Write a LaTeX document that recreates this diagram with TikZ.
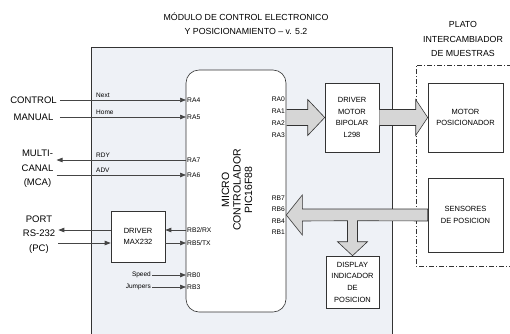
\documentclass[tikz,border=0pt]{standalone}
\usepackage{fontspec}
\setmainfont{Liberation Sans}
\usepackage{xcolor}
\usetikzlibrary{arrows.meta, positioning, calc}
\definecolor{modbg}{HTML}{EEF1F6}
\definecolor{edge}{HTML}{333333}
\definecolor{busfill}{HTML}{D6D6D6}
\definecolor{wire}{HTML}{454545}

\begin{document}
\begin{tikzpicture}[
    x=1pt, y=-1pt,
    block/.style={
        rectangle, draw=edge, fill=white, line width=0.6pt,
        align=center, inner sep=1pt,
        font=\fontsize{7.5}{11.7}\selectfont,
    },
    mcubox/.style={
        rectangle, rounded corners=13pt, draw=edge, fill=white,
        line width=0.6pt, minimum width=100pt, minimum height=242pt,
    },
    pinl/.style={anchor=west, inner sep=1pt, font=\fontsize{6.7}{8}\selectfont},
    pinr/.style={anchor=east, inner sep=1pt, font=\fontsize{6.7}{8}\selectfont},
    lbl/.style={inner sep=1pt, font=\fontsize{6.5}{8}\selectfont},
    ext/.style={align=center, inner xsep=3pt, inner ysep=1pt,
        font=\fontsize{9.5}{14.5}\selectfont},
    head/.style={align=center, inner sep=1pt, font=\fontsize{8.8}{14.5}\selectfont},
    sig/.style={draw=wire, line width=0.7pt, -{Triangle[length=6pt, width=4.5pt]}},
    bus/.style={draw=edge, fill=busfill, line width=0.6pt, line join=miter},
]
\useasboundingbox (0,0) rectangle (510,333);

% ── Module frame and sample changer frame ──────────────────────────────────
\fill[modbg] (91,47) rectangle (392,334);
\draw[edge, line width=0.6pt] (91,334) -- (91,47) -- (392,47) -- (392,334);
\draw[edge, line width=0.6pt, dash pattern=on 5pt off 2pt on 1pt off 2pt]
    (512,65) -| (416,266) -- (512,266);

\node[head] (title) at (246,23.5)
    {MÓDULO DE CONTROL ELECTRONICO\\Y POSICIONAMIENTO -- v. 5.2};
\node[head] (plato) at (463,39) {PLATO\\INTERCAMBIADOR\\DE MUESTRAS};

% ── Blocks ──────────────────────────────────────────────────────────────────
\def\mcuW{186}
\def\mcuE{286}

\node[mcubox] (mcu) at (236,191) {};
\node[rotate=90, align=center, inner sep=0pt,
      font=\fontsize{10.5}{11.5}\selectfont] (mcutxt) at (237,190)
    {MICRO\\CONTROLADOR\\PIC16F88};

\node[block, minimum width=54pt, minimum height=69pt] (drvmot) at (352,117.5)
    {DRIVER\\MOTOR\\BIPOLAR\\L298};
\node[block, minimum width=75pt, minimum height=69pt] (motor) at (465.5,117.5)
    {MOTOR\\POSICIONADOR};
\node[block, minimum width=75pt, minimum height=74pt] (sens) at (465.5,215)
    {SENSORES\\DE POSICION};
\node[block, minimum width=53pt, minimum height=52pt] (disp) at (352.5,282)
    {DISPLAY\\INDICADOR\\DE\\POSICION};
\node[block, minimum width=54pt, minimum height=51pt] (drv232) at (138,236.5)
    {DRIVER\\MAX232};

% ── External signals ───────────────────────────────────────────────────────
\node[ext] (manual) at (33.5,108.5) {CONTROL\\[2pt]MANUAL};
\node[ext] (mca) at (37.5,169) {MULTI-\\CANAL\\(MCA)};
\node[ext] (pc) at (39,234.5) {PORT\\RS-232\\(PC)};

% ── Pins ────────────────────────────────────────────────────────────────────
\node[pinl] (ra4) at (\mcuW,100) {RA4};
\node[pinl] (ra5) at (\mcuW,117) {RA5};
\node[pinl] (ra7) at (\mcuW,160) {RA7};
\node[pinl] (ra6) at (\mcuW,175) {RA6};
\node[pinl] (rb2) at (\mcuW,230) {RB2/RX};
\node[pinl] (rb5) at (\mcuW,243) {RB5/TX};
\node[pinl] (rb0) at (\mcuW,275) {RB0};
\node[pinl] (rb3) at (\mcuW,287) {RB3};

\node[pinr] (ra0) at (\mcuE,99)  {RA0};
\node[pinr] (ra1) at (\mcuE,111) {RA1};
\node[pinr] (ra2) at (\mcuE,123) {RA2};
\node[pinr] (ra3) at (\mcuE,135) {RA3};
\node[pinr] (rb7) at (\mcuE,198) {RB7};
\node[pinr] (rb6) at (\mcuE,209) {RB6};
\node[pinr] (rb4) at (\mcuE,221) {RB4};
\node[pinr] (rb1) at (\mcuE,232) {RB1};

% ── Signal lines ────────────────────────────────────────────────────────────
\draw[sig] (manual.east |- ra4) -- (ra4.west);
\draw[sig] (manual.east |- ra5) -- (ra5.west);
\draw[sig] (ra7.west) -- (mca.east |- ra7);
\draw[sig] (mca.east |- ra6) -- (ra6.west);

\node[lbl, anchor=south west] (lnext) at (95,99)  {Next};
\node[lbl, anchor=south west] (lhome) at (95,116) {Home};
\node[lbl, anchor=south west] (lrdy)  at (95,159) {RDY};
\node[lbl, anchor=south west] (ladv)  at (95,174) {ADV};

\draw[sig] (rb2.west) -- (drv232.east |- rb2);
\draw[sig] (drv232.west |- rb2) -- (pc.east |- rb2);
\draw[sig] (pc.east |- rb5) -- (drv232.west |- rb5);
\draw[sig] (drv232.east |- rb5) -- (rb5.west);

\node[lbl, anchor=east] (lspeed) at (152,275) {Speed};
\node[lbl, anchor=east] (ljump)  at (152,287) {Jumpers};
\draw[sig] (lspeed.east) -- (rb0.west);
\draw[sig] (ljump.east) -- (rb3.west);

% ── Bus arrows ──────────────────────────────────────────────────────────────
\draw[bus] ($(mcu.east |- drvmot.west)+(0.3,-8)$) -- ($(drvmot.west)+(-17,-8)$)
    -- ++(0,-10) -- (drvmot.west) -- ++(-17,18) -- ++(0,-10)
    -- ($(mcu.east |- drvmot.west)+(0.3,8)$);
\draw[bus] ($(drvmot.east)+(0,-8)$) -- ($(motor.west)+(-12,-8)$)
    -- ++(0,-10) -- (motor.west) -- ++(-12,18) -- ++(0,-10)
    -- ($(drvmot.east)+(0,8)$);
\draw[bus] (mcu.east |- sens.west) -- ++(16,-20) -- ++(0,14)
    -- ($(sens.west)+(0,-6)$) -- ++(0,12)
    -- ($(disp.north)+(5,-35)$) -- ++(0,21) -- ++(10,0) -- (disp.north)
    -- ++(-15,-14) -- ++(10,0) -- ++(0,-21)
    -- ($(mcu.east |- sens.west)+(16,6)$) -- ++(0,14) -- cycle;

\end{tikzpicture}
\end{document}
